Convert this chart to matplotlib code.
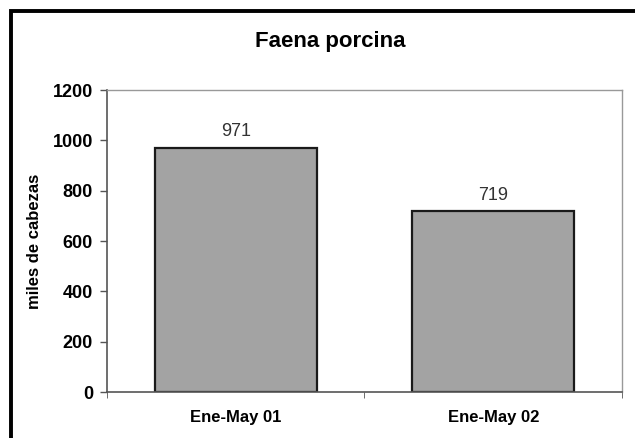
import matplotlib.pyplot as plt
from matplotlib.patches import Rectangle

categories = ['Ene-May 01', 'Ene-May 02']
values = [971, 719]
y_ticks = [0, 200, 400, 600, 800, 1000, 1200]

plt.rcParams['font.family'] = ['Liberation Sans', 'DejaVu Sans']

fig = plt.figure(figsize=(6.35, 4.38), dpi=100)
ax = fig.add_axes([0.1685, 0.105, 0.811, 0.6895])

x = range(len(categories))
ax.bar(x, values, width=0.63, color='#a3a3a3', edgecolor='#1a1a1a', linewidth=1.6)
for xi, v in zip(x, values):
    ax.text(xi, v + 30, str(v), ha='center', va='bottom', fontsize=13, color='#333333')

ax.set_xlim(-0.5, len(categories) - 0.5)
ax.set_ylim(0, 1200)
ax.set_yticks(y_ticks)
ax.set_yticklabels([str(t) for t in y_ticks], fontsize=13, fontweight='bold')
ax.set_xticks(list(x))
ax.set_xticklabels(categories, fontsize=12, fontweight='bold')
ax.tick_params(axis='x', length=0, pad=13)
ax.set_xticks([-0.5, 0.5, 1.5], minor=True)
ax.tick_params(axis='x', which='minor', length=4, color='#555555')
ax.tick_params(axis='y', length=5, width=1, color='#555555', pad=5)

for side in ['left', 'bottom']:
    ax.spines[side].set_color('#555555')
    ax.spines[side].set_linewidth(1.2)
for side in ['top', 'right']:
    ax.spines[side].set_color('#999999')
    ax.spines[side].set_linewidth(1.0)

ax.set_ylabel('miles de cabezas', fontsize=12, fontweight='bold', labelpad=8)
fig.text(0.52, 0.905, 'Faena porcina', ha='center', va='center', fontsize=16, fontweight='bold')

# outer frame, cut off at right and bottom like the scan
fig.patches.append(Rectangle((11 / 635, -0.05), 1.0, 1.05 - 11 / 438, transform=fig.transFigure,
                             fill=False, edgecolor='black', linewidth=2.8))

fig.savefig('out.png', dpi=100)
